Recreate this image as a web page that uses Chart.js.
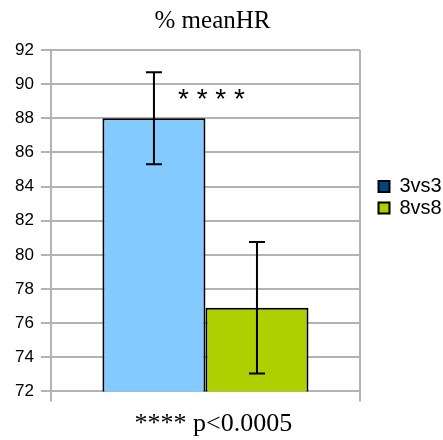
<!DOCTYPE html>
<html>
<head>
<meta charset="UTF-8">
<title>% meanHR</title>
<script src="https://cdn.jsdelivr.net/npm/chart.js"></script>
<style>
  html, body { margin: 0; padding: 0; background: #fff; }
  #wrap { width: 443px; height: 440px; }
</style>
</head>
<body>
<div id="wrap"><canvas id="hrChart"></canvas></div>
<script>
  // data
  const categories = [''];
  const seriesNames = ['3vs3', '8vs8'];
  const meanValues = [88.0, 76.9];
  const errValues = [2.7, 3.85];
  const yTicks = { min: 72, max: 92, step: 2 };
  const starsValue = 89.3;

  const barColors = ['#83CAFF', '#AECF00'];
  const legendColors = ['#004586', '#AECF00'];

  // error bars + significance stars
  const errorBars = {
    id: 'errorBars',
    afterDatasetsDraw(chart) {
      const ctx = chart.ctx;
      const y = chart.scales.y;
      ctx.save();
      ctx.strokeStyle = '#000';
      ctx.lineWidth = 2;
      chart.data.datasets.forEach((ds, i) => {
        const bar = chart.getDatasetMeta(i).data[0];
        const v = ds.data[0];
        const e = errValues[i];
        const yt = y.getPixelForValue(v + e);
        const yb = y.getPixelForValue(v - e);
        ctx.beginPath();
        ctx.moveTo(bar.x, yt); ctx.lineTo(bar.x, yb);
        ctx.moveTo(bar.x - 8, yt); ctx.lineTo(bar.x + 8, yt);
        ctx.moveTo(bar.x - 8, yb); ctx.lineTo(bar.x + 8, yb);
        ctx.stroke();
      });
      const b0 = chart.getDatasetMeta(0).data[0];
      const xs = b0.x + b0.width / 2 + 6;
      ctx.fillStyle = '#000';
      ctx.font = '28px "Liberation Sans", Arial, sans-serif';
      ctx.textAlign = 'center';
      ctx.textBaseline = 'alphabetic';
      ctx.fillText('* * * *', xs, y.getPixelForValue(starsValue) + 12);
      ctx.restore();
    }
  };

  const datasets = seriesNames.map((name, i) => ({
    label: name,
    data: [meanValues[i]],
    backgroundColor: barColors[i],
    borderColor: '#000',
    borderWidth: 2,
    borderSkipped: false,
    barPercentage: 1,
    categoryPercentage: 2 / 3
  }));

  new Chart(document.getElementById('hrChart'), {
    type: 'bar',
    data: { labels: categories, datasets: datasets },
    options: {
      responsive: true,
      maintainAspectRatio: false,
      animation: false,
      layout: { padding: { left: 8, right: 1, top: 0, bottom: 0 } },
      scales: {
        x: {
          grid: { color: '#b3b3b3', lineWidth: 2, offset: true, tickLength: 10 },
          border: { display: false },
          ticks: { display: true, padding: 0, font: { size: 2 } }
        },
        y: {
          min: yTicks.min,
          max: yTicks.max,
          ticks: {
            stepSize: yTicks.step,
            color: '#000',
            padding: 7,
            font: { family: '"Liberation Sans", Arial, sans-serif', size: 17 }
          },
          grid: { color: '#b3b3b3', lineWidth: 2, tickLength: 10 },
          border: { display: false }
        },
        // blank strip between the plot and the legend
        gap: {
          position: 'right',
          display: true,
          grid: { display: false },
          border: { display: false },
          ticks: { display: false },
          afterFit(scale) { scale.width = 17; }
        }
      },
      plugins: {
        title: {
          display: true,
          text: '% meanHR\u2002\u2002',
          color: '#000',
          font: { family: '"Liberation Serif", "Times New Roman", serif', size: 25, weight: 'normal' },
          padding: { top: 6, bottom: 14 }
        },
        subtitle: {
          display: true,
          position: 'bottom',
          text: '**** p<0.0005\u2002\u2009\u2009',
          color: '#000',
          font: { family: '"Liberation Serif", "Times New Roman", serif', size: 26, weight: 'normal' },
          padding: { top: 5, bottom: 0 }
        },
        legend: {
          position: 'right',
          align: 'start',
          maxWidth: 65,
          title: {
            display: true,
            text: ' ',
            font: { size: 10 },
            padding: { top: 163, bottom: 0 }
          },
          labels: {
            boxWidth: 11,
            boxHeight: 11,
            padding: 1.5,
            color: '#000',
            font: { family: '"Liberation Sans", Arial, sans-serif', size: 20 },
            generateLabels(chart) {
              return chart.data.datasets.map((ds, i) => ({
                text: ds.label,
                fillStyle: legendColors[i],
                strokeStyle: '#000',
                fontColor: '#000',
                lineWidth: 2,
                datasetIndex: i
              }));
            }
          }
        },
        tooltip: { enabled: false }
      }
    },
    plugins: [errorBars]
  });
</script>
</body>
</html>
